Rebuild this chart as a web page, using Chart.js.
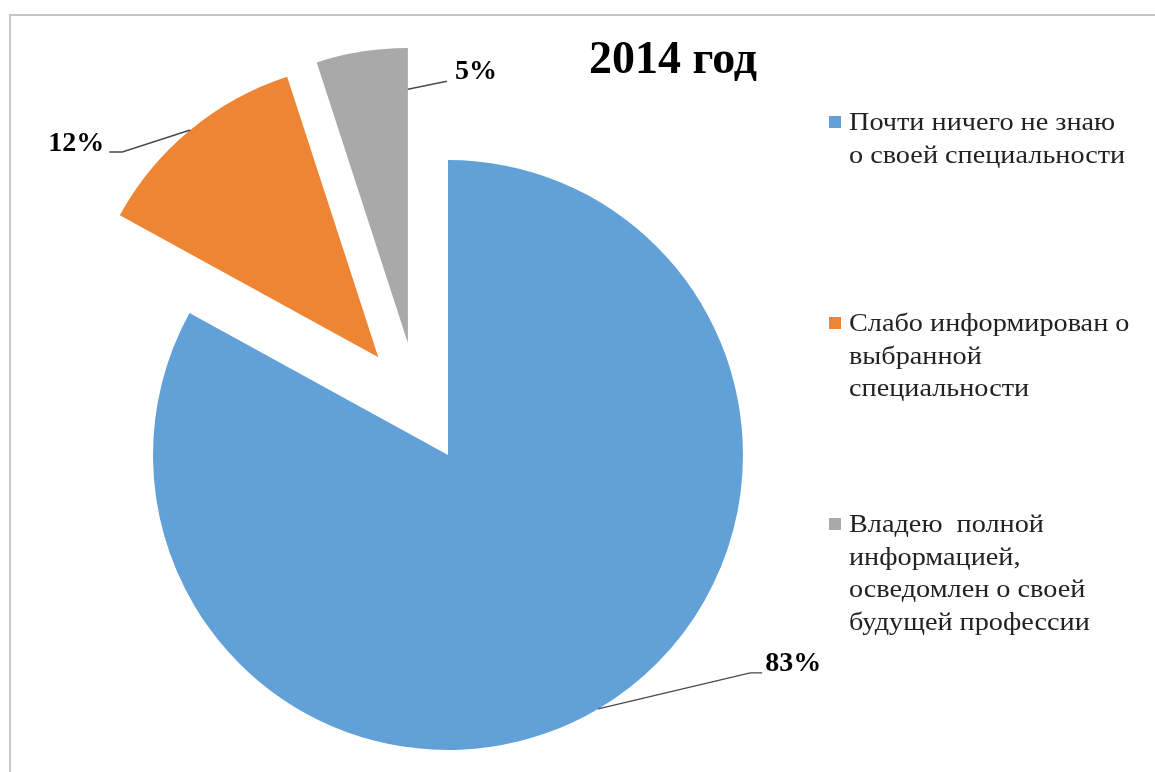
<!DOCTYPE html>
<html>
<head>
<meta charset="utf-8">
<script src="https://cdn.jsdelivr.net/npm/chart.js@4"></script>
<style>
  html, body { margin: 0; padding: 0; background: #fff; }
  #wrap { position: relative; width: 1155px; height: 772px; overflow: hidden;
          font-family: "Liberation Serif", "Times New Roman", serif; }
  #frame { position: absolute; left: 9px; top: 14px; width: 1160px; height: 770px;
           border-top: 2px solid #c6c6c6; border-left: 2px solid #c6c6c6; }
  canvas { position: absolute; left: 0; top: 0; }
  #title { position: absolute; left: 573px; width: 200px; top: 35px; text-align: center;
           font-weight: bold; font-size: 46px; line-height: 46px; color: #000; white-space: nowrap; }
  .item { position: absolute; left: 829px; width: 320px; }
  .sw { position: absolute; left: 0; width: 12px; height: 12px; }
  .txt { position: absolute; left: 20px; font-size: 25px; line-height: 32.5px; color: #222;
         white-space: pre; transform: scaleX(1.13); transform-origin: 0 0; }
</style>
</head>
<body>
<div id="wrap">
  <div id="frame"></div>
  <canvas id="c" width="1155" height="772"></canvas>
  <div id="title"></div>
  <div id="legend"></div>
</div>
<script>
// ---- data ----
const titleText = "2014 год";
const categories = [
  ["Почти ничего не знаю", "о своей специальности"],
  ["Слабо информирован о", "выбранной", "специальности"],
  ["Владею  полной", "информацией,", "осведомлен о своей", "будущей профессии"]
];
const values = [83, 12, 5];
const valueLabels = ["83%", "12%", "5%"];
const colors = ["#62a1d8", "#ee8535", "#a9a9a9"];

// ---- styles ----
const explodeDist = [0, 120, 119];            // px
const explodeDirDeg = [0, 324.5, 340.3];      // clockwise from 12 o'clock
const labelAnchor = [{mode: 'mid', r: 1.0}, {mode: 'mid', r: 1.0}, {mode: 'end', r: 0.86}];
const leaderPts = [[[152, -36], [164, -36]], [[-68, 22], [-81, 22]], [[39, -8]]];
const textOffset = [[3, -9, 'left'], [-5, -8, 'right'], [8, -9, 'left']];

document.getElementById('title').textContent = titleText;

// HTML legend
const leg = document.getElementById('legend');
categories.forEach((lines, i) => {
  const it = document.createElement('div');
  it.className = 'item';
  it.style.top = (106 + i * 201) + 'px';
  const sw = document.createElement('div');
  sw.className = 'sw';
  sw.style.background = colors[i];
  sw.style.top = '10px';
  const tx = document.createElement('div');
  tx.className = 'txt';
  tx.textContent = lines.join('\n');
  it.appendChild(sw); it.appendChild(tx);
  leg.appendChild(it);
});

const explodePlugin = {
  id: 'explode',
  afterDatasetUpdate(chart, args) {
    args.meta.data.forEach((arc, i) => {
      const d = explodeDist[i];
      if (!d) return;
      const a = explodeDirDeg[i] * Math.PI / 180;
      arc.x += d * Math.sin(a);
      arc.y -= d * Math.cos(a);
    });
  }
};

const labelPlugin = {
  id: 'pieLabels',
  afterDatasetsDraw(chart) {
    const ctx = chart.ctx;
    const meta = chart.getDatasetMeta(0);
    ctx.save();
    meta.data.forEach((arc, i) => {
      const p = arc.getProps(['x', 'y', 'startAngle', 'endAngle', 'outerRadius'], true);
      const la = labelAnchor[i];
      const ang = la.mode === 'mid' ? (p.startAngle + p.endAngle) / 2 : p.endAngle;
      const ax = p.x + Math.cos(ang) * p.outerRadius * la.r;
      const ay = p.y + Math.sin(ang) * p.outerRadius * la.r;
      ctx.strokeStyle = '#4a4a4a';
      ctx.lineWidth = 1.4;
      ctx.beginPath();
      ctx.moveTo(ax, ay);
      let ex = ax, ey = ay;
      leaderPts[i].forEach(o => { ex = ax + o[0]; ey = ay + o[1]; ctx.lineTo(ex, ey); });
      ctx.stroke();
      const to = textOffset[i];
      ctx.fillStyle = '#000';
      ctx.font = 'bold 28px "Liberation Serif", "Times New Roman", serif';
      ctx.textAlign = to[2];
      ctx.textBaseline = 'middle';
      ctx.fillText(valueLabels[i], ex + to[0], ey + to[1]);
    });
    ctx.restore();
  }
};

new Chart(document.getElementById('c'), {
  type: 'pie',
  data: {
    labels: categories,
    datasets: [{ data: values, backgroundColor: colors, borderWidth: 0 }]
  },
  options: {
    responsive: false,
    animation: false,
    events: [],
    layout: { padding: { left: 153, right: 412, top: 160, bottom: 22 } },
    plugins: { legend: { display: false }, tooltip: { enabled: false }, title: { display: false } }
  },
  plugins: [explodePlugin, labelPlugin]
});
</script>
</body>
</html>
